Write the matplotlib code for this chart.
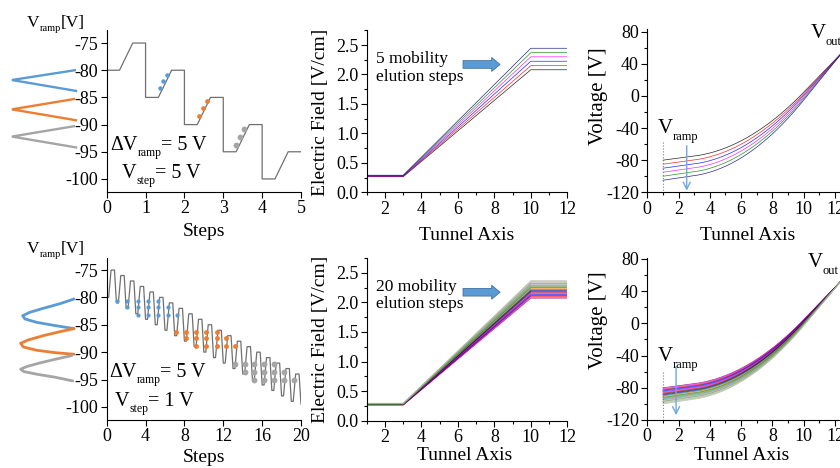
import numpy as np
import matplotlib
matplotlib.use("Agg")
import matplotlib.pyplot as plt
from matplotlib.ticker import MultipleLocator, FormatStrFormatter
from matplotlib.transforms import Affine2D, offset_copy

W, H = 840, 468
plt.rcParams['font.family'] = ['Liberation Serif', 'DejaVu Serif']
plt.rcParams['mathtext.fontset'] = 'custom'
plt.rcParams['mathtext.rm'] = 'Liberation Serif'
plt.rcParams['mathtext.default'] = 'regular'
plt.rcParams['axes.unicode_minus'] = False

# ======================= DATA =======================
# --- top-left: V_ramp staircase, dV_ramp = 5 V, V_step = 5 V
stair5_x = [0, 0.33, 0.67, 1, 1, 1.33, 1.67, 2, 2, 2.33, 2.67, 3,
            3, 3.33, 3.67, 4, 4, 4.33, 4.67, 5]
stair5_v = [-80, -80, -75, -75, -85, -85, -80, -80, -90, -90, -85, -85,
            -95, -95, -90, -90, -100, -100, -95, -95]
dots5_blue_x = [1.37, 1.45, 1.55]
dots5_blue_v = [-83.3, -82.0, -80.8]
dots5_orange_x = [2.37, 2.47, 2.58]
dots5_orange_v = [-88.4, -87.0, -85.7]
dots5_gray_x = [3.32, 3.43, 3.53]
dots5_gray_v = [-93.8, -92.3, -90.9]
# mobility "peaks" sketched left of the axis (steps, volts)
tri_blue_x = [-0.82, -2.44, -0.79]
tri_blue_v = [-80.0, -81.8, -83.8]
tri_orange_x = [-0.84, -2.44, -0.79]
tri_orange_v = [-85.3, -87.2, -89.2]
tri_gray_x = [-0.84, -2.44, -0.79]
tri_gray_v = [-90.3, -92.2, -94.2]

# --- bottom-left: 20 steps, V_step = 1 V (valley level of each step)
stair20_base = [-80, -81, -82, -83, -84, -85, -86, -87, -88, -89,
                -90, -91, -92, -93, -94, -95, -96, -97, -98, -99]
stair20_end_v = -99.5
ramp_dv = 5
blue20_x = [1.09, 2.12, 2.12, 3.18, 3.18, 3.18, 4.20, 4.20, 4.20,
            5.28, 5.28, 5.28, 6.31, 6.31, 7.27]
blue20_v = [-80.6, -80.6, -81.8, -80.6, -81.8, -83.2, -80.6, -81.8, -83.2,
            -80.6, -81.8, -83.2, -81.8, -83.2, -83.2]
orange20_x = [7.14, 8.17, 8.17, 9.20, 9.20, 9.20, 10.23, 10.23, 10.23,
              11.33, 11.33, 11.33, 12.29, 12.29, 13.24]
orange20_v = [-86.3, -86.3, -87.5, -86.3, -87.5, -88.8, -86.3, -87.5, -88.8,
              -86.3, -87.5, -88.8, -87.5, -88.8, -88.8]
gray20_x = [13.20, 14.24, 14.24, 15.20, 15.20, 15.20, 16.20, 16.20, 16.20,
            17.23, 17.23, 17.23, 18.26, 18.26, 19.29]
gray20_v = [-92.2, -92.2, -93.6, -92.2, -93.6, -95.0, -92.2, -93.6, -95.0,
            -92.2, -93.6, -95.0, -93.6, -95.0, -95.0]
wave_blue_x = [-3.37, -4.81, -6.53, -7.90, -8.65, -8.41, -7.21, -5.50, -3.37]
wave_blue_v = [-80.29, -81.15, -81.99, -82.72, -83.34, -83.94, -84.55, -85.09, -85.71]
wave_orange_x = [-3.37, -4.81, -6.53, -8.07, -8.86, -8.59, -7.21, -5.32, -3.37]
wave_orange_v = [-85.71, -86.26, -86.99, -87.77, -88.38, -89.05, -89.66, -90.09, -90.39]
wave_gray_x = [-3.60, -5.15, -6.87, -8.24, -8.86, -8.52, -7.21, -5.32, -3.50]
wave_gray_v = [-90.64, -91.24, -91.97, -92.64, -93.12, -93.56, -94.03, -94.58, -95.26]

# --- electric field along tunnel (knots on the tunnel axis)
field_x = [1, 3, 10, 12]
e5_start = [0.265, 0.270, 0.275, 0.280, 0.285, 0.290]
e5_end = [2.080, 2.150, 2.225, 2.300, 2.370, 2.445]
e20_start = [0.265, 0.267, 0.268, 0.270, 0.271, 0.273, 0.274, 0.276, 0.277, 0.279, 0.280,
             0.282, 0.283, 0.285, 0.286, 0.288, 0.289, 0.291, 0.292, 0.294, 0.295]
e20_end = [2.070, 2.085, 2.100, 2.114, 2.129, 2.144, 2.159, 2.173, 2.188, 2.203, 2.218,
           2.232, 2.247, 2.262, 2.277, 2.291, 2.306, 2.321, 2.336, 2.350, 2.365]

# --- voltage along tunnel: V_ramp at entrance, common V_out at exit
v5_ramp = [-80, -85, -90, -95, -100, -105]
v20_ramp = [-80, -81, -82, -83, -84, -85, -86, -87, -88, -89, -90,
            -91, -92, -93, -94, -95, -96, -97, -98, -99, -100]
v_out = 55.0
x_out = 12.5

# ======================= STYLE =======================
C_BLUE, C_ORANGE, C_GRAY = '#5B9BD5', '#ED7D31', '#A5A5A5'
PAL6 = ['#000000', '#FF0000', '#0000FF', '#FF00FF', '#008000', '#000080']
PAL21 = ['#800080', '#FF00FF', '#FF0000', '#000080', '#0000FF', '#8000FF', '#FF0080',
         '#800000', '#000000', '#0000A0', '#008080', '#FF8000', '#008000', '#808000',
         '#20A0A0', '#808080', '#A0A0A0', '#6B8E23', '#B0B0B0', '#8FBC8F', '#B4B4A0']
STEP_PROFILE = (0.0, 0.2, 0.45, 0.8)
TICK_FS = 13

fig = plt.figure(figsize=(W / 100, H / 100), dpi=100)
pix = Affine2D().scale(1, -1).translate(0, H)  # pixel coords, origin top-left
renderer = fig.canvas.get_renderer()


def box(l, t, r, b):
    return [l / W, 1 - b / H, (r - l) / W, (b - t) / H]


def style(ax):
    for s in ('top', 'right'):
        ax.spines[s].set_visible(False)
    for s in ('left', 'bottom'):
        ax.spines[s].set_linewidth(0.8)
    ax.tick_params(which='both', direction='out', labelsize=TICK_FS, width=0.8, pad=2)
    ax.tick_params(which='major', length=4)
    ax.tick_params(which='minor', length=2)


def rich(x, y, pieces, transform):
    dx = 0.0
    for s, size, dy in pieces:
        t = fig.text(x, y, s, fontsize=size, ha='left', va='baseline',
                     transform=offset_copy(transform, fig=fig, x=dx, y=-dy, units='dots'))
        dx += t.get_window_extent(renderer=renderer).width


# ---------------- top-left ----------------
ax1 = fig.add_axes(box(106.7, 30, 301, 192))
style(ax1)
ax1.set_xlim(0, 5)
ax1.set_ylim(-102.4, -72.6)
ax1.xaxis.set_major_locator(MultipleLocator(1))
ax1.yaxis.set_major_locator(MultipleLocator(5))
ax1.plot(stair5_x, stair5_v, color='#707070', lw=0.9)
ax1.plot(dots5_blue_x, dots5_blue_v, 'o', color=C_BLUE, ms=3.2, mew=0)
ax1.plot(dots5_orange_x, dots5_orange_v, 'o', color=C_ORANGE, ms=3.4, mew=0)
ax1.plot(dots5_gray_x, dots5_gray_v, 'o', color=C_GRAY, ms=4.2, mew=0)
for xs, vs, c in ((tri_blue_x, tri_blue_v, C_BLUE), (tri_orange_x, tri_orange_v, C_ORANGE),
                  (tri_gray_x, tri_gray_v, C_GRAY)):
    ax1.plot(xs, vs, color=c, lw=1.7, clip_on=False, solid_joinstyle='miter')

# ---------------- bottom-left ----------------
ax4 = fig.add_axes(box(106.7, 258, 301, 420))
style(ax4)
ax4.set_xlim(0, 20)
ax4.set_ylim(-102.4, -72.8)
ax4.xaxis.set_major_locator(MultipleLocator(4))
ax4.yaxis.set_major_locator(MultipleLocator(5))
sx, sv = [], []
for k, base in enumerate(stair20_base):
    sx += [k + STEP_PROFILE[0], k + STEP_PROFILE[1], k + STEP_PROFILE[2], k + STEP_PROFILE[3]]
    sv += [base, base, base + ramp_dv, base + ramp_dv]
sx.append(len(stair20_base))
sv.append(stair20_end_v)
ax4.plot(sx, sv, color='#707070', lw=0.9)
ax4.plot(blue20_x, blue20_v, 'o', color=C_BLUE, ms=3.0, mew=0)
ax4.plot(orange20_x, orange20_v, 'o', color=C_ORANGE, ms=3.5, mew=0)
ax4.plot(gray20_x, gray20_v, 'o', color=C_GRAY, ms=4.2, mew=0)
for xs, vs, c in ((wave_blue_x, wave_blue_v, C_BLUE), (wave_orange_x, wave_orange_v, C_ORANGE),
                  (wave_gray_x, wave_gray_v, C_GRAY)):
    ax4.plot(xs, vs, color=c, lw=2.0, clip_on=False, solid_capstyle='round')


# ---------------- electric field ----------------
def field_panel(ax, e0s, e1s, pal, label):
    style(ax)
    ax.set_xlim(1, 12)
    ax.set_ylim(0, 2.75)
    ax.xaxis.set_major_locator(MultipleLocator(2))
    ax.xaxis.set_minor_locator(MultipleLocator(1))
    ax.yaxis.set_major_locator(MultipleLocator(0.5))
    ax.yaxis.set_minor_locator(MultipleLocator(0.25))
    ax.yaxis.set_major_formatter(FormatStrFormatter('%.1f'))
    for i, (e0, e1) in enumerate(zip(e0s, e1s)):
        ax.plot(field_x, [e0, e0, e1, e1], color=pal[i % len(pal)], lw=0.5, alpha=0.85)
    ax.text(1.5, 2.40, label, fontsize=12.5, ha='left', va='top', linespacing=1.15)
    ax.annotate('', xy=(8.31, 2.17), xytext=(6.28, 2.17),
                arrowprops=dict(arrowstyle='simple,head_length=0.6,head_width=1.0,tail_width=0.55',
                                fc='#5B9BD5', ec='#41719C', lw=0.6, shrinkA=0, shrinkB=0,
                                mutation_scale=10))


ax2 = fig.add_axes(box(366.8, 30.3, 567.3, 192.3))
field_panel(ax2, e5_start, e5_end, PAL6, '5 mobility\nelution steps')
ax5 = fig.add_axes(box(366.8, 257.9, 567.3, 420.7))
field_panel(ax5, e20_start, e20_end, PAL21, '20 mobility\nelution steps')


# ---------------- voltage ----------------
def voltage_panel(ax, vr, e0s, e1s, pal, ytop, arrow_x, arrow_v, dot_v):
    style(ax)
    ax.set_xlim(0, 12.5)
    ax.set_ylim(-120, ytop)
    ax.xaxis.set_major_locator(MultipleLocator(2))
    ax.xaxis.set_minor_locator(MultipleLocator(1))
    ax.yaxis.set_major_locator(MultipleLocator(40))
    ax.yaxis.set_minor_locator(MultipleLocator(20))
    xv = np.linspace(field_x[0], x_out, 300)
    for i, (v0, e0, e1) in enumerate(zip(vr, e0s, e1s)):
        e = np.interp(xv, field_x, [e0, e0, e1, e1])
        f = np.concatenate([[0.0], np.cumsum(0.5 * (e[1:] + e[:-1]) * np.diff(xv))])
        ax.plot(xv, v0 + (v_out - v0) * f / f[-1], color=pal[i % len(pal)], lw=0.5,
                alpha=0.85, clip_on=False)
    ax.plot([field_x[0], field_x[0]], dot_v, color='#808080', lw=0.8, ls=':')
    ax.annotate('', xy=(arrow_x, arrow_v[1]), xytext=(arrow_x, arrow_v[0]),
                arrowprops=dict(arrowstyle='->,head_length=0.5,head_width=0.25',
                                color='#6FA8DC', lw=1.0, shrinkA=0, shrinkB=0))


ax3 = fig.add_axes(box(647.3, 29, 842.8, 192.3))
voltage_panel(ax3, v5_ramp, e5_start, e5_end, PAL6, 83.4, 2.52, (-62, -118), (-57, -120))
ax6 = fig.add_axes(box(647.3, 257.7, 842.8, 420))
voltage_panel(ax6, v20_ramp, e20_start, e20_end, PAL21, 81.6, 1.84, (-54, -114), (-60, -120))

# ---------------- texts ----------------
rich(0.085, -94.7, [('\u0394V', 14.5, 0), ('ramp', 8.5, 6), ('= 5 V', 14.5, 0)], ax1.transData)
rich(0.39, -99.8, [('V', 14.5, 0), ('step', 8.5, 6), ('= 5 V', 14.5, 0)], ax1.transData)
rich(0.24, -94.5, [('\u0394V', 14.5, 0), ('ramp', 8.5, 6), ('= 5 V', 14.5, 0)], ax4.transData)
rich(0.85, -99.9, [('V', 14.5, 0), ('step', 8.5, 6), ('= 1 V', 14.5, 0)], ax4.transData)
rich(27, 26.7, [('V', 12.5, 0), ('ramp', 7.5, 4), ('[V]', 12.5, 0)], pix)
rich(27, 253.3, [('V', 12.5, 0), ('ramp', 7.5, 4), ('[V]', 12.5, 0)], pix)
rich(0.64, -45.8, [('V', 15, 0), ('ramp', 9, 7)], ax3.transData)
rich(10.45, 71.8, [('V', 15, 0), ('out', 9, 7)], ax3.transData)
rich(0.64, -46.7, [('V', 15, 0), ('ramp', 9, 7)], ax6.transData)
rich(10.26, 69.7, [('V', 15, 0), ('out', 9, 7)], ax6.transData)

for (x, y, s) in ((204, 231, 'Steps'), (204, 458, 'Steps'), (467, 235, 'Tunnel Axis'),
                  (748, 235, 'Tunnel Axis'), (465, 456, 'Tunnel Axis'), (742, 455, 'Tunnel Axis')):
    fig.text(x, y, s, fontsize=14, ha='center', va='center', transform=pix)
for (x, y, s, fs) in ((320, 112, 'Electric Field [V/cm]', 14), (321, 339, 'Electric Field [V/cm]', 14),
                      (598, 96, 'Voltage [V]', 15), (599, 320, 'Voltage [V]', 15)):
    fig.text(x, y, s, fontsize=fs, ha='center', va='center', rotation=90, transform=pix)

fig.savefig('out.png', dpi=100)
